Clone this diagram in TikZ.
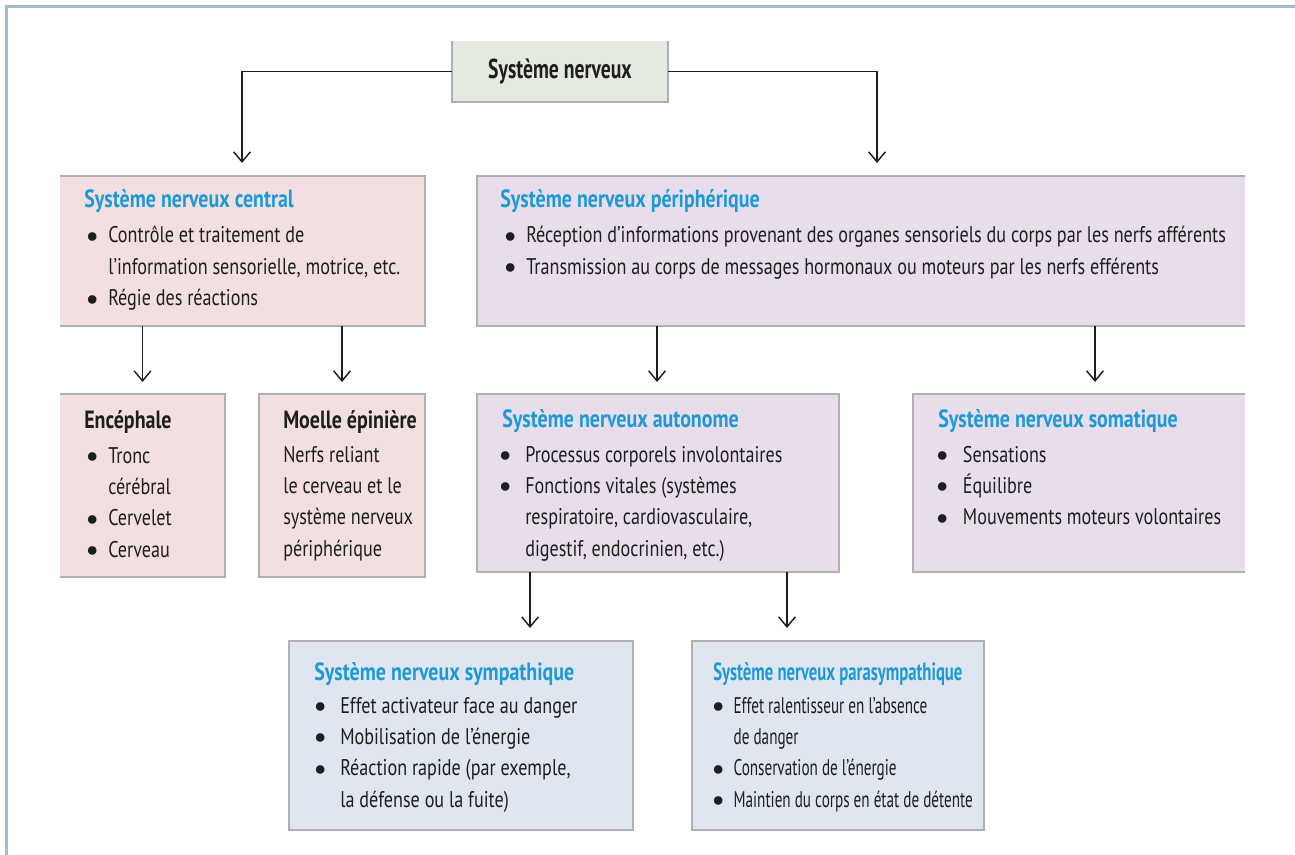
\documentclass[tikz,border=0pt]{standalone}
\usepackage{fontspec}
\setmainfont{PT Sans}[FakeStretch=0.8]
\newfontfamily\narrowfont{PT Sans}[FakeStretch=0.67]
\newfontfamily\titlefont{PT Sans}[FakeStretch=0.72]
\newfontfamily\bulfont{PT Sans}
\usetikzlibrary{arrows.meta,calc}
\definecolor{framec}{HTML}{9EBFCB}
\definecolor{pinkf}{HTML}{F2DFE0}
\definecolor{purf}{HTML}{E8DDEB}
\definecolor{bluef}{HTML}{DFE6EF}
\definecolor{greenf}{HTML}{E5EAE0}
\definecolor{edgec}{HTML}{B0B0B0}
\definecolor{headc}{HTML}{1D9AD6}
\definecolor{inkc}{HTML}{1E1E1E}
\newlength\bind
\newcommand\bul{\raisebox{-2.6pt}{\bulfont\fontsize{23}{23}\selectfont\textbullet}}
\newcommand\bit[1]{\hbox{\hbox to\bind{\hbox to 0pt{\hss\bul\hss}\hss}#1}}
\newcommand\cnt[1]{\hbox{\hskip\bind #1}}
\newcommand\pln[1]{\hbox{#1}}
\newcommand\lst[2]{\setlength\bind{#1}\vtop{\baselineskip=23.5pt\lineskiplimit=-100pt #2}}
\begin{document}
\begin{tikzpicture}[x=0.75pt,y=-0.75pt,
  box/.style={draw=none,inner sep=0pt,outer sep=0pt,anchor=north west},
  bord/.style={draw=edgec,line width=0.9pt},
  hd/.style={inner sep=0pt,anchor=base west,text=headc,font=\fontsize{18.7}{20}\selectfont\bfseries},
  hdk/.style={inner sep=0pt,anchor=base west,text=inkc,font=\fontsize{18.7}{20}\selectfont\bfseries},
  body/.style={inner sep=0pt,anchor=base west,text=inkc,font=\fontsize{17}{23.5}\selectfont},
  arr/.style={draw=inkc,line width=1.1pt,-{Straight Barb[length=7.5pt,width=12.5pt,line width=1.1pt]}}]
\useasboundingbox (0,0) rectangle (1295,855);
\draw[framec,line width=2pt] (6.5,860) -- (6.5,6.5) -- (1300,6.5);
% boxes
\node[box,fill=greenf,minimum width={216*0.75pt},minimum height={61*0.75pt}] (title) at (452,41) {};
\node[box,fill=pinkf,minimum width={365*0.75pt},minimum height={150*0.75pt}] (snc) at (60,176) {};
\node[box,fill=purf,minimum width={768*0.75pt},minimum height={150*0.75pt}] (snp) at (477,176) {};
\node[box,fill=pinkf,minimum width={165*0.75pt},minimum height={183*0.75pt}] (enc) at (60,394) {};
\node[box,fill=pinkf,minimum width={166*0.75pt},minimum height={183*0.75pt}] (moe) at (259,394) {};
\node[box,fill=purf,minimum width={362*0.75pt},minimum height={178*0.75pt}] (aut) at (477,394) {};
\node[box,fill=purf,minimum width={332*0.75pt},minimum height={178*0.75pt}] (som) at (913,394) {};
\node[box,fill=bluef,minimum width={344*0.75pt},minimum height={189*0.75pt}] (sym) at (289,641) {};
\node[box,fill=bluef,minimum width={292*0.75pt},minimum height={189*0.75pt}] (par) at (692,641) {};
% borders
\draw[bord] (title.north west) -- (title.south west) -- (title.south east) -- (title.north east);
\draw[bord] (snc.north west) -- (snc.north east) -- (snc.south east) -- (snc.south west);
\draw[bord] (snp.north east) -- (snp.north west) -- (snp.south west) -- (snp.south east);
\draw[bord] (enc.north west) -- (enc.north east) -- (enc.south east) -- (enc.south west);
\draw[bord] (moe.north west) rectangle (moe.south east);
\draw[bord] (aut.north west) rectangle (aut.south east);
\draw[bord] (som.north east) -- (som.north west) -- (som.south west) -- (som.south east);
\draw[bord] (sym.north west) rectangle (sym.south east);
\draw[bord] (par.north west) rectangle (par.south east);
% title
\node[inner sep=0pt,text=inkc,font=\titlefont\fontsize{20.5}{24}\selectfont\bfseries] (title-t) at ($(title.center)+(0,0)$) {Système nerveux};
% texts
\node[hd] (snc-h) at (84,208) {Système nerveux central};
\node[body] (snc-l) at (92,243) {\lst{12pt}{\bit{Contrôle et traitement de}\cnt{l’information sensorielle, motrice, etc.}\bit{Régie des réactions}}};
\node[hd] (snp-h) at (500,208) {Système nerveux périphérique};
\node[body] (snp-l) at (510,243) {\lst{12pt}{\bit{Réception d’informations provenant des organes sensoriels du corps par les nerfs afférents}\bit{Transmission au corps de messages hormonaux ou moteurs par les nerfs efférents}}};
\node[hdk] (enc-h) at (84,428) {Encéphale};
\node[body] (enc-l) at (92,463) {\lst{12pt}{\bit{Tronc}\cnt{cérébral}\bit{Cervelet}\bit{Cerveau}}};
\node[hdk] (moe-h) at (283,428) {Moelle épinière};
\node[body] (moe-l) at (283,462) {\lst{0pt}{\pln{Nerfs reliant}\pln{le cerveau et le}\pln{système nerveux}\pln{périphérique}}};
\node[hd] (aut-h) at (502,427) {Système nerveux autonome};
\node[body] (aut-l) at (505,462) {\lst{15pt}{\bit{Processus corporels involontaires}\bit{Fonctions vitales (systèmes}\cnt{respiratoire, cardiovasculaire,}\cnt{digestif, endocrinien, etc.)}}};
\node[hd] (som-h) at (938,427) {Système nerveux somatique};
\node[body] (som-l) at (942,462) {\lst{15.5pt}{\bit{Sensations}\bit{Équilibre}\bit{Mouvements moteurs volontaires}}};
\node[hd] (sym-h) at (314,680) {Système nerveux sympathique};
\node[body] (sym-l) at (320,713) {\lst{15pt}{\bit{Effet activateur face au danger}\bit{Mobilisation de l’énergie}\bit{Réaction rapide (par exemple,}\cnt{la défense ou la fuite)}}};
\node[hd,font=\narrowfont\fontsize{18.7}{20}\selectfont\bfseries] (par-h) at (713,680) {Système nerveux parasympathique};
\node[body,font=\narrowfont\fontsize{17}{23.5}\selectfont] (par-l) at (718,713) {\lst{11.5pt}{\bit{Effet ralentisseur en l’absence}\cnt{de danger}\bit{Conservation de l’énergie}\bit{Maintien du corps en état de détente}}};
% connectors
\coordinate (xa) at (242,0);
\coordinate (xb) at (877,0);
\coordinate (xc) at (657,0);
\coordinate (xd) at (1095,0);
\coordinate (xe) at (530,0);
\coordinate (xf) at (787,0);
\draw[arr,shorten >=9.75pt] (title.west) -| (xa |- snc.north);
\draw[arr,shorten >=9.75pt] (title.east) -| (xb |- snp.north);
\draw[arr,shorten >=9pt] (enc.north |- snc.south) -- (enc.north);
\draw[arr,shorten >=9pt] (moe.north |- snc.south) -- (moe.north);
\draw[arr,shorten >=9pt] (xc |- snp.south) -- (xc |- aut.north);
\draw[arr,shorten >=9pt] (xd |- snp.south) -- (xd |- som.north);
\draw[arr,shorten >=9.75pt] (xe |- aut.south) -- (xe |- sym.north);
\draw[arr,shorten >=9.75pt] (xf |- aut.south) -- (xf |- par.north);
\end{tikzpicture}
\end{document}
